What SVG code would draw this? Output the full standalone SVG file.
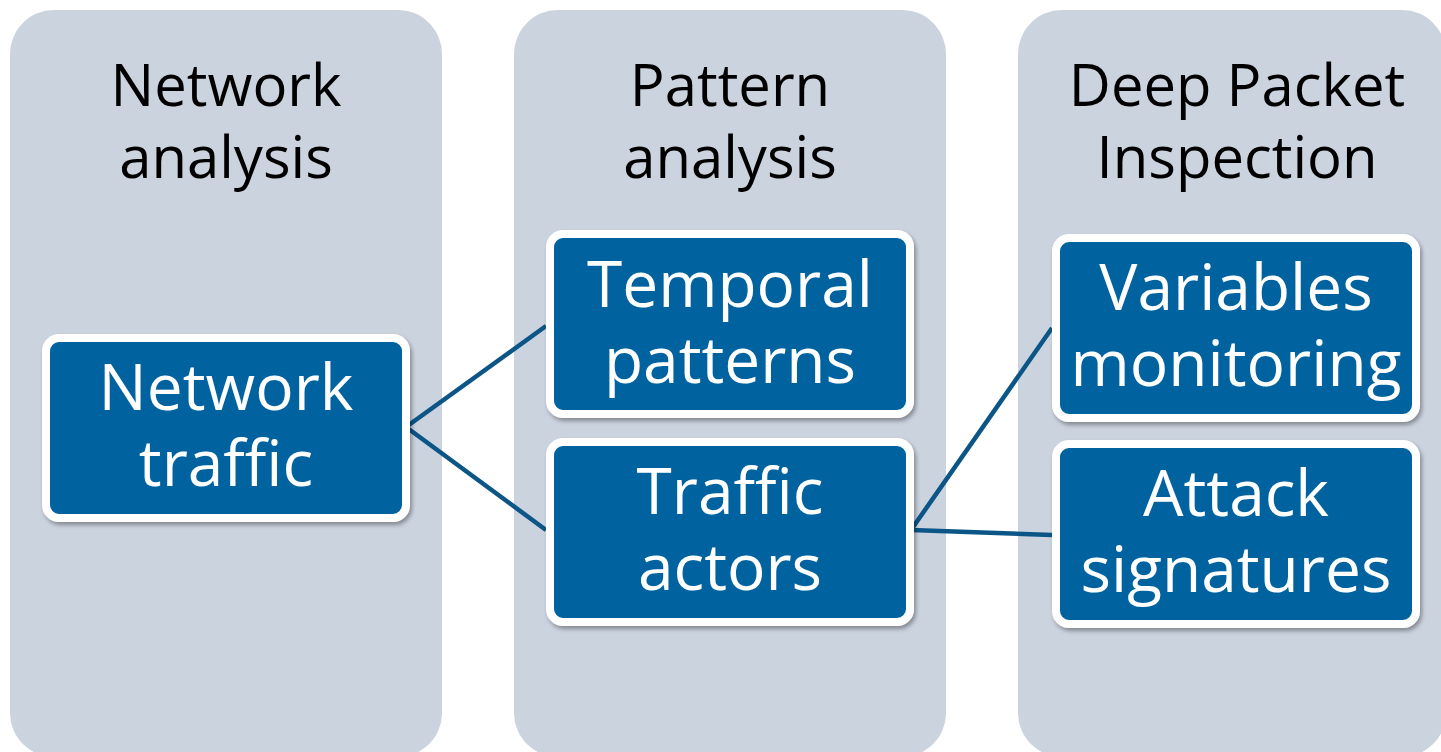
<svg xmlns="http://www.w3.org/2000/svg" width="1441" height="752" viewBox="0 0 1441 752">
  <defs>
    <filter id="sh" x="-10%" y="-10%" width="120%" height="130%">
      <feDropShadow dx="2" dy="3" stdDeviation="2" flood-color="#000" flood-opacity="0.35"/>
    </filter>
    <style>
      .col { fill: #CBD3DF; }
      .hdr { font-family: "Open Sans", "Liberation Sans", sans-serif; font-size: 58px; fill: #000; text-anchor: middle; }
      .box { fill: #0263A0; stroke: #FFFFFF; stroke-width: 8; filter: url(#sh); }
      .lbl { font-family: "Open Sans", "Liberation Sans", sans-serif; font-size: 64px; fill: #FFFFFF; text-anchor: middle; }
      .conn { stroke: #0B5587; stroke-width: 4.5; fill: none; stroke-linejoin: round; }
    </style>
  </defs>
  <rect width="1441" height="752" fill="#FFFFFF"/>

  <g id="col-network-analysis">
    <rect class="col" x="10" y="10" width="432" height="747" rx="44"/>
    <text class="hdr"><tspan x="226" y="106">Network</tspan><tspan x="226" y="178">analysis</tspan></text>
  </g>
  <g id="col-pattern-analysis">
    <rect class="col" x="514" y="10" width="432" height="747" rx="44"/>
    <text class="hdr"><tspan x="730" y="106">Pattern</tspan><tspan x="730" y="178">analysis</tspan></text>
  </g>
  <g id="col-dpi">
    <rect class="col" x="1018" y="10" width="428" height="747" rx="44"/>
    <text class="hdr"><tspan x="1237" y="106">Deep Packet</tspan><tspan x="1237" y="178">Inspection</tspan></text>
  </g>

  <g id="connectors">
    <polyline class="conn" points="546,326 406,427 546,530"/>
    <polyline class="conn" points="1052,328 911,530 1052,535"/>
  </g>

  <g id="node-network-traffic">
    <rect class="box" x="46" y="338" width="360" height="180" rx="13"/>
    <text class="lbl"><tspan x="226" y="410">Network</tspan><tspan x="226" y="486">traffic</tspan></text>
  </g>
  <g id="node-temporal-patterns">
    <rect class="box" x="550" y="234" width="360" height="180" rx="13"/>
    <text class="lbl"><tspan x="730" y="307">Temporal</tspan><tspan x="730" y="383">patterns</tspan></text>
  </g>
  <g id="node-traffic-actors">
    <rect class="box" x="550" y="442" width="360" height="180" rx="13"/>
    <text class="lbl"><tspan x="730" y="514">Traffic</tspan><tspan x="730" y="590">actors</tspan></text>
  </g>
  <g id="node-variables-monitoring">
    <rect class="box" x="1056" y="238" width="360" height="180" rx="13"/>
    <text class="lbl"><tspan x="1236" y="310">Variables</tspan><tspan x="1236" y="386">monitoring</tspan></text>
  </g>
  <g id="node-attack-signatures">
    <rect class="box" x="1056" y="444" width="360" height="180" rx="13"/>
    <text class="lbl"><tspan x="1236" y="516">Attack</tspan><tspan x="1236" y="592">signatures</tspan></text>
  </g>
</svg>
